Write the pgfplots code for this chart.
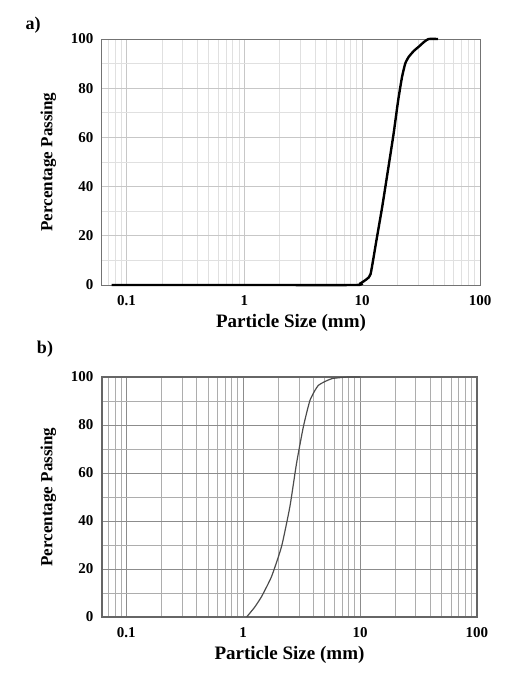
\documentclass[border=0pt]{standalone}
\usepackage{fontspec}
\setmainfont{Liberation Serif}
\usepackage{pgfplots}
\pgfplotsset{compat=1.18}

\pgfplotsset{
  psdcommon/.style={
    scale only axis,
    xmin=0.062, xmax=100,
    ymin=0, ymax=100,
    xtick={0.1,1,10,100},
    xticklabels={0.1,1,10,100},
    minor xtick={0.07,0.08,0.09,0.2,0.3,0.4,0.5,0.6,0.7,0.8,0.9,2,3,4,5,6,7,8,9,20,30,40,50,60,70,80,90},
    ytick={0,20,40,60,80,100},
    minor ytick={10,30,50,70,90},
    grid=both,
    major tick length=0pt, minor tick length=0pt,
    /pgf/number format/assume math mode=true,
    tick label style={font=\fontsize{15}{17}\selectfont\bfseries},
    xlabel={Particle Size (mm)},
    ylabel={Percentage Passing},
    xlabel style={font=\fontsize{19}{21}\selectfont\bfseries, yshift=-2pt},
    ylabel style={font=\fontsize{17}{19}\selectfont\bfseries, yshift=8pt},
    xticklabel style={yshift=-7pt},
    yticklabel style={xshift=-5pt},
    clip=false,
  }
}

\begin{document}
\begin{tikzpicture}
% panel a
\begin{semilogxaxis}[psdcommon,
  width=378pt, height=246pt,
  axis line style={draw=black!55, line width=1pt},
  major grid style={draw=black!22, line width=0.8pt},
  minor grid style={draw=black!12, line width=0.8pt},
]
\addplot[black, line width=2.4pt, smooth, tension=0.3] coordinates {
  (0.075,0) (1,0) (8.8,0) (9.7,0.7) (11.0,2.5) (11.8,4.5) (13.2,18) (14.8,31.8)
  (16.6,47) (18.5,61.6) (20.2,75) (21.8,84.6) (23.2,90) (24.8,92.7)
  (27.5,95.2) (30.1,96.8) (33.5,98.8) (36.6,100) (44,100)
};
\end{semilogxaxis}
\node[font=\fontsize{18}{20}\selectfont\bfseries] at (-69pt,260pt) {a)};

% panel b
\begin{semilogxaxis}[psdcommon,
  at={(0pt,-332pt)},
  width=375pt, height=240pt,
  axis line style={draw=black!60, line width=1.4pt},
  major grid style={draw=black!45, line width=0.8pt},
  minor grid style={draw=black!32, line width=0.8pt},
]
\addplot[black!70, line width=1.2pt, smooth, tension=0.3] coordinates {
  (1.07,0) (1.25,4) (1.44,8.6) (1.75,16.9) (2.13,29.4) (2.51,46) (2.86,64)
  (3.27,79.2) (3.73,90.3) (4.39,96.5) (5.72,99.3) (7.94,100) (10,100)
};
\end{semilogxaxis}
\node[font=\fontsize{18}{20}\selectfont\bfseries] at (-57pt,-64pt) {b)};

\pgfresetboundingbox
\path (-102pt,285pt) rectangle (406pt,-388pt);
\end{tikzpicture}
\end{document}
